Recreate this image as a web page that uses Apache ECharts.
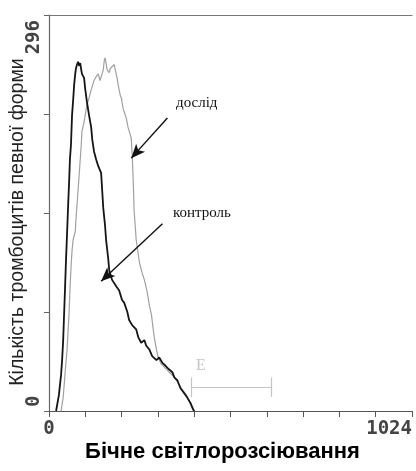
<!DOCTYPE html>
<html>
<head>
<meta charset="utf-8">
<script src="https://cdn.jsdelivr.net/npm/echarts@6/dist/echarts.min.js"></script>
<style>html,body{margin:0;padding:0;background:#fff}#c{width:416px;height:471px}</style>
</head>
<body>
<div id="c"></div>
<script>
// channel (0..1024) of each sample
const controlX = [20,28,34,37,40,42,45,48,51,54,57,59,62,65,68,71,74,76,79,82,85,88,91,93,99,102,107,113,119,122,127,133,139,147,150,153,158,161,167,170,178,190,198,206,212,221,226,235,246,252,260,269,274,283,291,303,311,320,328,339,348,354,362,371,376,385,390,399,407,410];
const controlY = [0,12,27,38,53,68,90,113,133,154,173,188,199,221,232,244,252,256,259,261,258,260,255,252,249,241,231,221,212,203,194,188,183,178,165,152,139,128,114,105,98,93,90,83,81,74,68,64,61,55,51,53,49,46,41,38,40,36,34,31,29,25,23,17,16,12,10,6,1,0];
const experimentX = [34,40,45,51,54,57,59,62,65,68,74,76,79,85,91,93,99,102,107,113,119,122,127,133,139,144,147,153,156,158,161,164,170,173,178,184,187,192,195,201,204,209,218,223,232,235,238,240,246,255,263,269,277,283,289,294,297,303,308,317,328,339,351,362,373,385,396,404,410];
const experimentY = [0,10,27,46,61,75,90,107,120,128,134,143,154,176,199,209,216,221,229,234,240,241,247,250,252,247,246,255,262,264,260,255,253,256,255,259,255,249,244,236,234,226,219,212,204,190,169,150,128,111,103,98,89,79,72,61,55,46,40,35,32,29,26,22,17,13,7,2,0];
const xTickLabels = ['0','1024'];
const yTickLabels = ['0','296'];
const seriesNames = ['дослід','контроль'];

const pairs = (xs, ys) => xs.map((x, i) => [x, ys[i]]);

const chart = echarts.init(document.getElementById('c'), null, {renderer: 'canvas'});
const mono = '"DejaVu Sans Mono", monospace';
chart.setOption({
  animation: false,
  backgroundColor: '#fff',
  grid: {left: 49, right: 4, top: 15, bottom: 60, containLabel: false, outerBoundsMode: 'none'},
  xAxis: [{
    type: 'value', min: 0, max: 1024, interval: 102.4,
    name: 'Бічне світлорозсіювання', nameLocation: 'middle', nameGap: 30, nameMoveOverlap: false,
    nameTextStyle: {fontFamily: '"Liberation Sans", Arial', fontWeight: 'bold', fontSize: 22, color: '#000', padding: [0, 16, 0, 0]},
    axisLine: {lineStyle: {color: '#555', width: 1.2}},
    axisTick: {length: 6, lineStyle: {color: '#555'}},
    splitLine: {show: false},
    axisLabel: {
      margin: 9, fontFamily: mono, fontWeight: 'bold', fontSize: 19, color: '#444',
      formatter: v => v === 0 ? xTickLabels[0] : (v >= 1024 ? xTickLabels[1] : ''),
      alignMaxLabel: 'right', padding: [0, 0, 0, 0]
    }
  }, {
    type: 'value', min: 0, max: 1024, position: 'top',
    axisLine: {show: true, lineStyle: {color: '#777', width: 1.2}},
    axisTick: {show: false}, axisLabel: {show: false}, splitLine: {show: false}
  }],
  yAxis: {
    type: 'value', min: 0, max: 296, interval: 74,
    name: 'Кількість тромбоцитів певної форми', nameLocation: 'middle', nameGap: 21, nameRotate: 90, nameMoveOverlap: false,
    nameTextStyle: {fontFamily: '"Liberation Sans", Arial', fontSize: 19.5, color: '#222', padding: [0, 18, 0, 0]},
    axisLine: {show: true, lineStyle: {color: '#666', width: 1.2}},
    axisTick: {length: 5, lineStyle: {color: '#666'}},
    splitLine: {show: false},
    axisLabel: {
      margin: 5, rotate: 90, fontFamily: mono, fontWeight: 'bold', fontSize: 19, color: '#444',
      formatter: v => v === 0 ? yTickLabels[0] : (v >= 296 ? yTickLabels[1] : ''),
      alignMinLabel: 'left', alignMaxLabel: 'right',
      padding: [0, 5, 0, 4]
    }
  },
  series: [{
    name: seriesNames[0], type: 'line', showSymbol: false, symbol: 'none',
    data: pairs(experimentX, experimentY),
    lineStyle: {color: '#a0a0a0', width: 1.2},
    z: 2,
    markLine: {
      silent: true, symbol: ['none', 'arrow'], symbolSize: [9, 14],
      lineStyle: {color: '#111', width: 1.4, type: 'solid'},
      label: {show: false},
      data: [
        [{coord: [334, 219]}, {coord: [232, 189]}],
        [{coord: [320, 140]}, {coord: [147, 97]}]
      ]
    }
  }, {
    name: seriesNames[1], type: 'line', showSymbol: false, symbol: 'none',
    data: pairs(controlX, controlY),
    lineStyle: {color: '#151515', width: 1.8},
    z: 3,
    markLine: {
      silent: true, symbol: ['none', 'none'],
      lineStyle: {color: '#c4c4c4', width: 1.2, type: 'solid'},
      label: {show: false},
      data: [
        [{coord: [402, 18]}, {coord: [628, 18]}],
        [{coord: [402, 25]}, {coord: [402, 10.5]}],
        [{coord: [628, 25]}, {coord: [628, 10.5]}]
      ]
    }
  }],
  graphic: [
    {type: 'text', left: 176, top: 96, style: {text: seriesNames[0], font: '15px "Liberation Serif", serif', fill: '#111'}},
    {type: 'text', left: 173, top: 206, style: {text: seriesNames[1], font: '15px "Liberation Serif", serif', fill: '#111'}},
    {type: 'text', left: 196, top: 358, style: {text: 'E', font: '16px "Liberation Serif", serif', fill: '#c4c4c4'}}
  ]
});
</script>
</body>
</html>
